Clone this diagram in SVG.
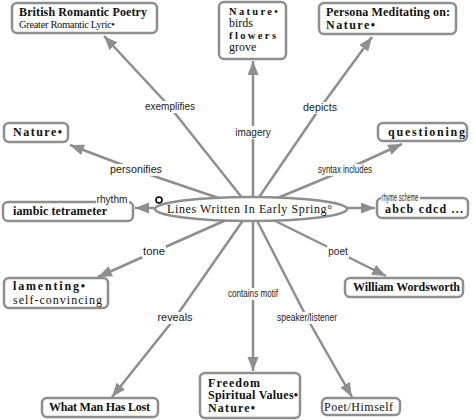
<svg xmlns="http://www.w3.org/2000/svg" width="474" height="420" viewBox="0 0 474 420">
<defs>
<marker id="ah" markerUnits="userSpaceOnUse" markerWidth="16" markerHeight="12" refX="14" refY="5.5" orient="auto"><path d="M0,0 L14,5.5 L0,11 z" fill="#8e8e8e"/></marker>
</defs>
<style>
.c{fill:none;stroke:#8e8e8e;stroke-width:2.5}
.box{fill:#fff;stroke:#8e8e8e;stroke-width:2.5}
.n{font-family:"Liberation Serif","DejaVu Serif",serif;font-size:12px;fill:#111}
.b{font-weight:bold}
.r{font-size:10.5px}
.s{font-size:10.5px}
.l{font-family:"Liberation Sans","DejaVu Sans",sans-serif;font-size:10px;fill:#222;text-anchor:middle}
.lb{fill:#fff}
</style>
<rect width="474" height="420" fill="#fff"/>
<g id="connectors">
<path class="c" d="M251,209 L170,107 L104,36" marker-end="url(#ah)"/>
<path class="c" d="M253,209 L253,61" marker-end="url(#ah)"/>
<path class="c" d="M251,209 L320,108 L372,37" marker-end="url(#ah)"/>
<path class="c" d="M251,209 L136,170 L70,145" marker-end="url(#ah)"/>
<path class="c" d="M251,208 L135,208" marker-end="url(#ah)"/>
<path class="c" d="M251,209 L345,170 L402,144" marker-end="url(#ah)"/>
<path class="c" d="M251,208 L375,208" marker-end="url(#ah)"/>
<path class="c" d="M251,209 L154,252 L98,277" marker-end="url(#ah)"/>
<path class="c" d="M251,209 L338,252 L386,276" marker-end="url(#ah)"/>
<path class="c" d="M251,209 L175,318 L112,397" marker-end="url(#ah)"/>
<path class="c" d="M253,209 L253,371" marker-end="url(#ah)"/>
<path class="c" d="M251,209 L307,318 L352,397" marker-end="url(#ah)"/>
</g>
<g id="center">
<ellipse cx="251" cy="209" rx="96" ry="12" class="box"/>
<text class="n" x="167" y="213" font-size="13" textLength="165" lengthAdjust="spacing">Lines Written In Early Spring°</text>
<circle cx="159" cy="200" r="3" fill="none" stroke="#000" stroke-width="1.6"/>
</g>
<g id="n-british">
<rect class="box" x="12" y="3" width="145" height="30" rx="5"/>
<text class="n b" x="19" y="16" textLength="128" lengthAdjust="spacing">British Romantic Poetry</text>
<text class="n r" x="19" y="28" textLength="96" lengthAdjust="spacing">Greater Romantic Lyric•</text>
</g>
<g id="n-nature-imagery">
<rect class="box" x="219" y="2" width="67" height="57" rx="5"/>
<text class="n b s" x="229" y="14.5" textLength="49" lengthAdjust="spacing">Nature•</text>
<text class="n" x="229" y="26.5" font-size="10">birds</text>
<text class="n b s" x="229" y="38.5" textLength="47" lengthAdjust="spacing">flowers</text>
<text class="n" x="229" y="50.5" font-size="10">grove</text>
</g>
<g id="n-persona">
<rect class="box" x="319" y="3" width="137" height="31" rx="5"/>
<text class="n b" x="326" y="16" textLength="124" lengthAdjust="spacing">Persona Meditating on:</text>
<text class="n b" x="326" y="28.5" textLength="49" lengthAdjust="spacing">Nature•</text>
</g>
<g id="n-nature-left">
<rect class="box" x="4" y="123" width="64" height="19" rx="5"/>
<text class="n b" x="13" y="136" textLength="49" lengthAdjust="spacing">Nature•</text>
</g>
<g id="n-iambic">
<rect class="box" x="3" y="202" width="130" height="19" rx="5"/>
<text class="n b" x="13" y="215" textLength="94" lengthAdjust="spacing">iambic tetrameter</text>
</g>
<g id="n-questioning">
<rect class="box" x="378" y="123" width="89" height="18" rx="5"/>
<text class="n b" x="388" y="136" font-size="13" textLength="77" lengthAdjust="spacing">questioning</text>
</g>
<g id="n-abcb">
<rect class="box" x="377" y="198" width="91" height="20" rx="5"/>
<text class="n b" x="385" y="213" textLength="78" lengthAdjust="spacing">abcb cdcd ...</text>
</g>
<g id="n-lamenting">
<rect class="box" x="4" y="278" width="104" height="30" rx="5"/>
<text class="n b" x="13" y="290" textLength="72" lengthAdjust="spacing">lamenting•</text>
<text class="n" x="13" y="304" font-size="13" textLength="89" lengthAdjust="spacing">self-convincing</text>
</g>
<g id="n-wordsworth">
<rect class="box" x="345" y="278" width="118" height="19" rx="5"/>
<text class="n b" x="353" y="291" font-size="11.5" textLength="107" lengthAdjust="spacing">William Wordsworth</text>
</g>
<g id="n-whatman">
<rect class="box" x="42" y="398" width="116" height="19" rx="5"/>
<text class="n b" x="49" y="411" font-size="11.5" textLength="101" lengthAdjust="spacing">What Man Has Lost</text>
</g>
<g id="n-freedom">
<rect class="box" x="200" y="373" width="100" height="45" rx="5"/>
<text class="n b" x="208" y="386.5" font-size="11" textLength="52" lengthAdjust="spacing">Freedom</text>
<text class="n b" x="208" y="399" font-size="11" textLength="90" lengthAdjust="spacing">Spiritual Values•</text>
<text class="n b" x="208" y="411.5" font-size="11" textLength="47" lengthAdjust="spacing">Nature•</text>
</g>
<g id="n-poet">
<rect class="box" x="322" y="398" width="78" height="17" rx="5"/>
<text class="n" x="324" y="411" font-size="12.5" textLength="69" lengthAdjust="spacing">Poet/Himself</text>
</g>
<g id="link-labels">
<rect class="lb" x="143" y="101" width="54" height="12"/><text class="l" x="170" y="110">exemplifies</text>
<rect class="lb" x="233" y="126" width="40" height="13"/><text class="l" x="253" y="136">imagery</text>
<rect class="lb" x="302" y="102" width="36" height="12"/><text class="l" x="320" y="111" textLength="34" lengthAdjust="spacingAndGlyphs">depicts</text>
<rect class="lb" x="109" y="164" width="54" height="12"/><text class="l" x="136" y="173" textLength="52" lengthAdjust="spacingAndGlyphs">personifies</text>
<rect class="lb" x="317" y="164" width="56" height="12"/><text class="l" x="345" y="173" textLength="54" lengthAdjust="spacingAndGlyphs">syntax includes</text>
<rect class="lb" x="96" y="195" width="33" height="10"/><text class="l" x="112" y="203" textLength="31" lengthAdjust="spacingAndGlyphs">rhythm</text>
<rect class="lb" x="381" y="194" width="39" height="8"/><text class="l" x="400" y="200.5" font-size="8.5" textLength="37" lengthAdjust="spacingAndGlyphs">rhyme scheme</text>
<rect class="lb" x="142" y="246" width="24" height="12"/><text class="l" x="154" y="255" textLength="22" lengthAdjust="spacingAndGlyphs">tone</text>
<rect class="lb" x="327" y="246" width="22" height="12"/><text class="l" x="338" y="255">poet</text>
<rect class="lb" x="157" y="312" width="37" height="12"/><text class="l" x="175" y="321" textLength="35" lengthAdjust="spacingAndGlyphs">reveals</text>
<rect class="lb" x="227" y="288" width="52" height="12"/><text class="l" x="253" y="297" textLength="50" lengthAdjust="spacingAndGlyphs">contains motif</text>
<rect class="lb" x="276" y="312" width="62" height="12"/><text class="l" x="307" y="321" textLength="60" lengthAdjust="spacingAndGlyphs">speaker/listener</text>
</g>
</svg>
